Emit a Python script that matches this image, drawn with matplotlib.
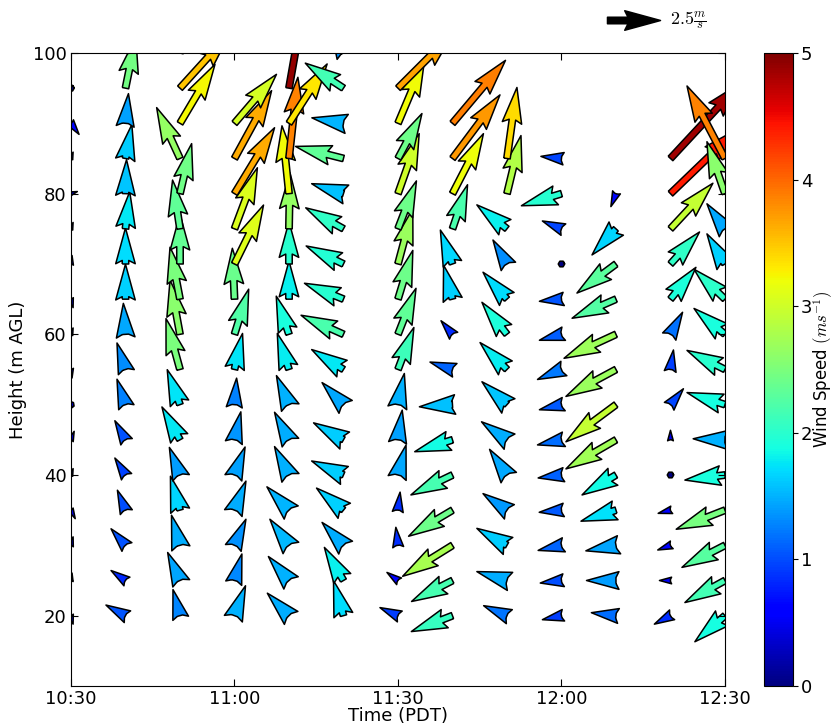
import numpy as np
import matplotlib
matplotlib.use('Agg')
import matplotlib.pyplot as plt

plt.rcParams['mathtext.fontset'] = 'cm'
plt.rcParams['font.size'] = 13

nan = np.nan

# observation times (PDT) and range gates (m AGL)
times = ['10:30', '10:40', '10:50', '11:00', '11:10', '11:20', '11:30',
         '11:40', '11:50', '12:00', '12:10', '12:20', '12:30']
heights = [20, 25, 30, 35, 40, 45, 50, 55, 60, 65, 70, 75, 80, 85, 90, 95, 100]

# eastward (u) and northward (v) wind components, m/s, one list per time, bottom to top
u_1030 = [0.1, 0.05, 0.1, 0.2, 0.1, 0.15, 0.05, 0.05, 0.1, 0.1, 0.05, 0.1, 0.3, 0.1, 0.38, 0.0, nan]
v_1030 = [-0.4, 0.35, 0.4, -0.4, 0.3, 0.4, -0.3, -0.4, 0.3, -0.4, 0.4, 0.3, 0.1, 0.3, -0.52, 0.0, nan]
u_1040 = [-0.92, -0.68, -0.68, -0.38, -0.5, -0.5, -0.4, -0.4, -0.1, 0.0, 0.0, 0.2, 0.05, 0.3, 0.14, 0.49, 0.3]
v_1040 = [0.5, 0.47, 0.78, 0.94, 0.8, 0.9, 1.2, 1.25, 1.46, 1.65, 1.7, 1.75, 1.6, 1.6, 1.4, 2.4, 2.0]
u_1050 = [-0.33, -0.58, -0.4, -0.45, -0.5, -0.85, -0.6, -0.66, -0.47, -0.47, 0.0, -0.35, 0.55, -1.1, 1.65, 2.36, 0.5]
v_1050 = [1.23, 1.32, 1.42, 1.6, 1.3, 1.55, 1.65, 2.4, 2.55, 2.45, 2.35, 2.3, 2.36, 2.4, 2.78, 2.6, 2.0]
u_1100 = [0.52, 0.35, 0.54, 0.54, 0.5, 0.3, 0.1, 0.38, 0.67, -0.1, 1.37, 1.08, 1.89, 1.75, 1.98, nan, nan]
v_1100 = [1.41, 1.25, 1.23, 1.37, 1.32, 1.32, 1.25, 1.7, 2.13, 2.4, 2.78, 2.88, 3.11, 3.2, 2.31, nan, nan]
u_1110 = [-1.02, -0.97, -0.9, -1.04, -0.68, -0.68, -0.59, -0.55, -0.6, 0.0, 0.0, 0.05, -0.33, 0.42, 1.8, 0.85, nan]
v_1110 = [1.06, 1.13, 1.23, 1.1, 1.34, 1.3, 1.37, 1.7, 1.8, 1.8, 2.0, 2.64, 3.2, 3.83, 2.8, 4.83, nan]
u_1120 = [-0.47, -0.9, -1.01, -1.27, -1.5, -1.41, -1.01, -1.5, -2.0, -1.84, -1.76, -1.78, -1.5, -2.26, -1.49, -1.8, -0.6]
v_1120 = [1.65, 1.56, 1.08, 1.04, 0.66, 0.8, 1.04, 0.94, 0.9, 0.75, 0.85, 0.99, 0.47, 0.57, 0.26, 1.18, 1.2]
u_1130 = [-0.85, -0.52, -0.1, 0.1, 0.38, 0.2, 0.3, 0.75, 0.85, 0.7, 0.7, 0.87, 1.0, 1.13, 1.25, 2.6, nan]
v_1130 = [0.38, 0.38, 0.85, 0.85, 1.41, 1.4, 1.47, 1.98, 2.17, 2.3, 2.6, 2.26, 2.83, 2.12, 2.97, 2.6, nan]
u_1140 = [-1.94, -1.93, -2.35, -2.07, -1.96, -1.78, -1.56, -1.06, -0.54, -0.42, -0.57, 0.71, 1.46, 2.24, 2.5, nan, nan]
v_1140 = [-0.75, -0.99, -1.46, -1.23, -0.94, -0.56, -0.1, 0.35, 0.64, 1.6, 1.6, 2.08, 2.83, 3.0, 2.97, nan, nan]
u_1150 = [-1.1, -1.42, -1.42, -1.13, -0.82, -1.2, -1.18, -1.27, -1.18, -1.13, -0.66, -1.42, 0.66, 0.47, nan, nan, nan]
v_1150 = [0.47, 0.42, 0.8, 0.78, 1.21, 0.85, 1.08, 1.27, 1.51, 1.27, 1.13, 1.13, 2.74, 3.35, nan, nan, nan]
u_1200 = [-0.9, -1.0, -1.1, -1.05, -1.1, -1.13, -1.04, -1.13, -1.04, -1.04, 0.0, -0.9, -1.89, -0.97, nan, nan, nan]
v_1200 = [-0.19, -0.12, -0.24, -0.1, -0.14, -0.24, -0.24, -0.47, -0.28, -0.1, 0.0, 0.37, -0.57, 0.1, nan, nan, nan]
u_1210 = [-1.16, -1.39, -1.42, -1.65, -1.6, -2.36, -2.36, -2.36, -2.45, -2.07, -1.84, -1.13, -0.24, nan, nan, nan, nan]
v_1210 = [0.14, 0.0, -0.26, -0.52, -0.94, -1.37, -1.75, -1.27, -1.13, -0.9, -1.37, -1.23, -0.61, nan, nan, nan, nan]
u_1220 = [-0.76, -0.52, -0.6, -0.58, 0.0, 0.0, 0.61, 0.14, 0.57, 1.2, 1.37, 2.0, 3.17, 3.3, nan, nan, nan]
v_1220 = [-0.4, 0.0, -0.22, -0.15, 0.0, 0.45, 0.75, 0.92, 1.04, 1.5, 1.51, 2.15, 3.05, 3.55, nan, nan, nan]
u_1230 = [-1.42, -1.89, -2.03, -2.3, -1.89, -1.5, -1.79, -1.79, -1.46, -1.46, -0.85, -0.85, -0.85, -1.79, nan, nan, nan]
v_1230 = [-1.23, -1.04, -1.04, -0.9, -0.24, 0.05, 0.57, 0.9, 1.22, 1.41, 1.42, 1.18, 2.45, 3.42, nan, nan, nan]

U = np.array([u_1030, u_1040, u_1050, u_1100, u_1110, u_1120, u_1130,
              u_1140, u_1150, u_1200, u_1210, u_1220, u_1230])
V = np.array([v_1030, v_1040, v_1050, v_1100, v_1110, v_1120, v_1130,
              v_1140, v_1150, v_1200, v_1210, v_1220, v_1230])

# minutes after 10:30
minutes = [int(t[:2]) * 60 + int(t[3:]) - 630 for t in times]
X, Y = np.meshgrid(minutes, heights, indexing='ij')
speed = np.sqrt(U ** 2 + V ** 2)

fig = plt.figure(figsize=(8.39, 7.25), dpi=100)
ax = fig.add_axes([0.0846, 0.0538, 0.7795, 0.8731])
cax = fig.add_axes([0.911, 0.0538, 0.0346, 0.8731])

# short vectors collapse to plain triangles, as in the original
Q = ax.quiver(X, Y, U, V, speed, cmap='jet', clim=(0, 5),
              units='dots', width=6.5, scale_units='dots', scale=1 / 21.2,
              headwidth=3, headlength=5.5, headaxislength=5.0,
              minshaft=5.0 / 5.5, edgecolor='k', linewidth=1.1)

qk = ax.quiverkey(Q, 0.7866, 0.9724, 2.5, r'$2.5\frac{m}{s}$', labelpos='E',
                  coordinates='figure', color='k', fontproperties={'size': 13})

ax.set_xlim(0, 120)
ax.set_ylim(10, 100)
ax.set_xticks([0, 30, 60, 90, 120])
ax.set_xticklabels(['10:30', '11:00', '11:30', '12:00', '12:30'])
ax.set_yticks([20, 40, 60, 80, 100])
ax.tick_params(direction='in', top=True, right=True, length=5, pad=3)
ax.set_xlabel('Time (PDT)', labelpad=-1)
ax.set_ylabel('Height (m AGL)')

cb = fig.colorbar(Q, cax=cax, ticks=[0, 1, 2, 3, 4, 5])
cb.ax.tick_params(pad=2)
cb.set_label(r'Wind Speed $(ms^{-1})$', labelpad=-1, fontsize=12)

plt.savefig('out.png', dpi=100)
